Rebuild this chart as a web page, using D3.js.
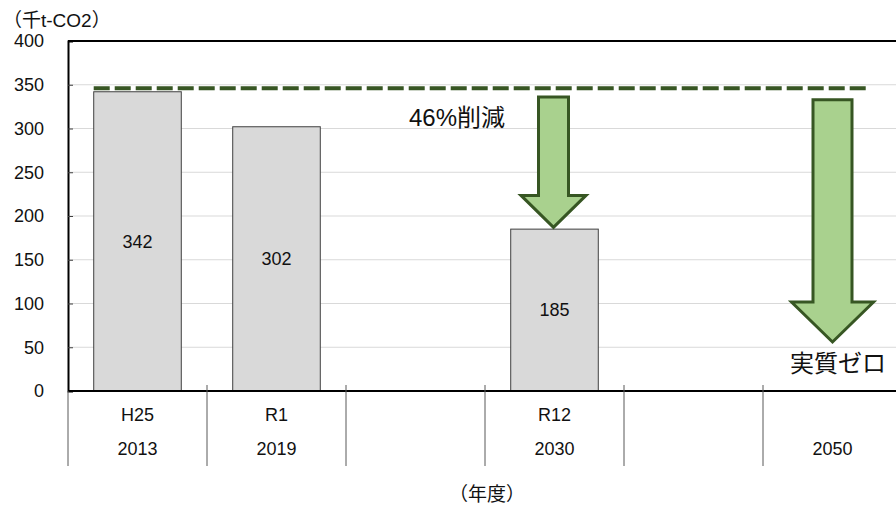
<!DOCTYPE html>
<html>
<head>
<meta charset="utf-8">
<script src="https://cdn.jsdelivr.net/npm/d3@7"></script>
<style>
  body { margin: 0; background: #fff; }
  text { font-family: "Liberation Sans", "Noto Sans CJK JP", sans-serif; fill: #111; }
</style>
</head>
<body>
<svg id="chart" width="896" height="505"></svg>
<script>
// chart data
const eras = ["H25", "R1", "", "R12", "", ""];
const years = ["2013", "2019", "", "2030", "", "2050"];
const emissions = [342, 302, null, 185, null, null];
const yTicks = [0, 50, 100, 150, 200, 250, 300, 350, 400];
const baseLevel = 346;           // dashed reference line
const arrowCats = [3, 5];        // arrows over R12 and 2050
const arrowFrom = [336, 333];
const arrowTo = [187, 56];
const arrowNotes = ["46%削減", "実質ゼロ"];

const width = 896, height = 505;
const plotL = 68, plotR = 902, plotT = 41, plotB = 391;
const font = "'Liberation Sans', 'Noto Sans CJK JP', sans-serif";

const svg = d3.select("svg#chart");

const x = d3.scaleBand()
    .domain(d3.range(eras.length))
    .range([plotL, plotR])
    .padding(0);

const y = d3.scaleLinear()
    .domain([0, 400])
    .range([plotB, plotT]);

const barW = x.bandwidth() * 0.63;

// gridlines
svg.append("g")
    .selectAll("line")
    .data(yTicks.filter(d => d > 0 && d < 400))
    .enter()
    .append("line")
    .attr("x1", plotL)
    .attr("x2", width)
    .attr("y1", d => y(d))
    .attr("y2", d => y(d))
    .attr("stroke", "#d9d9d9")
    .attr("stroke-width", 1);

// y axis
const yAxis = svg.append("g")
    .attr("transform", `translate(${plotL},0)`)
    .call(d3.axisLeft(y).tickValues(yTicks).tickSize(-5).tickPadding(24));
yAxis.select(".domain").attr("stroke", "#000").attr("stroke-width", 2);
yAxis.selectAll(".tick line").attr("stroke", "#404040");
yAxis.selectAll(".tick text")
    .attr("font-size", 18)
    .attr("fill", "#111")
    .style("font-family", font);

// frame top
svg.append("line")
    .attr("x1", plotL).attr("x2", width)
    .attr("y1", plotT).attr("y2", plotT)
    .attr("stroke", "#000").attr("stroke-width", 2);

// bars
const bars = svg.append("g")
    .selectAll("g")
    .data(emissions.map((v, i) => ({v, i})).filter(d => d.v != null))
    .enter()
    .append("g");

bars.append("rect")
    .attr("x", d => x(d.i) + (x.bandwidth() - barW) / 2)
    .attr("y", d => y(d.v))
    .attr("width", barW)
    .attr("height", d => y(0) - y(d.v))
    .attr("fill", "#d9d9d9")
    .attr("stroke", "#404040")
    .attr("stroke-width", 1);

bars.append("text")
    .attr("x", d => x(d.i) + x.bandwidth() / 2)
    .attr("y", d => (y(d.v) + y(0)) / 2)
    .attr("dy", "0.35em")
    .attr("text-anchor", "middle")
    .attr("font-size", 18)
    .text(d => d.v);

// x axis line
svg.append("line")
    .attr("x1", plotL).attr("x2", width)
    .attr("y1", plotB).attr("y2", plotB)
    .attr("stroke", "#000").attr("stroke-width", 2);

// category separators
svg.append("g")
    .selectAll("line")
    .data(d3.range(eras.length + 1))
    .enter()
    .append("line")
    .attr("x1", i => i < eras.length ? x(i) : plotR)
    .attr("x2", i => i < eras.length ? x(i) : plotR)
    .attr("y1", i => i === 0 ? plotB : plotB - 6)
    .attr("y2", 466)
    .attr("stroke", "#595959")
    .attr("stroke-width", 1);

// category labels
const cat = svg.append("g")
    .selectAll("g")
    .data(d3.range(eras.length))
    .enter()
    .append("g");

cat.append("text")
    .attr("x", i => x(i) + x.bandwidth() / 2)
    .attr("y", 415)
    .attr("dy", "0.35em")
    .attr("text-anchor", "middle")
    .attr("font-size", 18)
    .text(i => eras[i]);

cat.append("text")
    .attr("x", i => x(i) + x.bandwidth() / 2)
    .attr("y", 449)
    .attr("dy", "0.35em")
    .attr("text-anchor", "middle")
    .attr("font-size", 18)
    .text(i => years[i]);

// dashed reference line
svg.append("line")
    .attr("x1", x(0) + (x.bandwidth() - barW) / 2)
    .attr("x2", 866)
    .attr("y1", y(baseLevel))
    .attr("y2", y(baseLevel))
    .attr("stroke", "#375623")
    .attr("stroke-width", 4)
    .attr("stroke-dasharray", "16 5");

// arrows
const shaftW = [30, 39], headW = [65, 82], headL = [32, 40];
arrowCats.forEach((c, k) => {
    const cx = x(c) + x.bandwidth() / 2 - (k === 0 ? 1 : 0);
    const y0 = y(arrowFrom[k]), y1 = y(arrowTo[k]);
    const s = shaftW[k] / 2, h = headW[k] / 2, hy = y1 - headL[k];
    const pts = [[cx - s, y0], [cx + s, y0], [cx + s, hy], [cx + h, hy],
                 [cx, y1], [cx - h, hy], [cx - s, hy]];
    svg.append("path")
        .attr("d", d3.line()(pts) + "Z")
        .attr("fill", "#a9d18e")
        .attr("stroke", "#375623")
        .attr("stroke-width", 3)
        .attr("stroke-linejoin", "miter");
});

// annotations
svg.append("text")
    .attr("x", 457).attr("y", 118)
    .attr("dy", "0.35em")
    .attr("text-anchor", "middle")
    .attr("font-size", 24)
    .text(arrowNotes[0]);

svg.append("text")
    .attr("x", 838).attr("y", 364)
    .attr("dy", "0.35em")
    .attr("text-anchor", "middle")
    .attr("font-size", 24)
    .text(arrowNotes[1]);

// unit + axis title
svg.append("text")
    .attr("x", 3).attr("y", 20)
    .attr("dy", "0.35em")
    .attr("font-size", 19)
    .text("（千t-CO2）");

svg.append("text")
    .attr("x", 487).attr("y", 494)
    .attr("dy", "0.35em")
    .attr("text-anchor", "middle")
    .attr("font-size", 19)
    .text("（年度）");
</script>
</body>
</html>
